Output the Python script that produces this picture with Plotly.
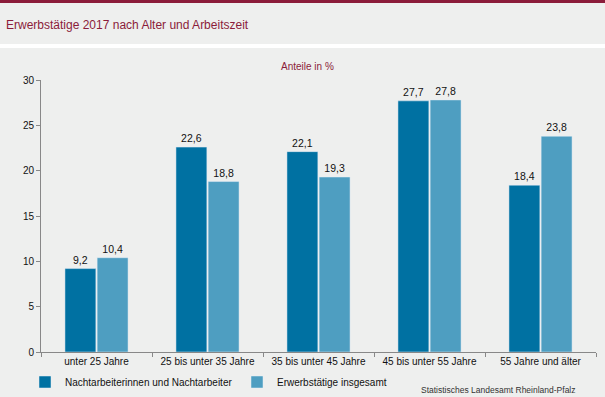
import plotly.graph_objects as go

categories = ["unter 25 Jahre", "25 bis unter 35 Jahre", "35 bis unter 45 Jahre",
              "45 bis unter 55 Jahre", "55 Jahre und älter"]
nacht = [9.2, 22.6, 22.1, 27.7, 18.4]
gesamt = [10.4, 18.8, 19.3, 27.8, 23.8]
series_names = ["Nachtarbeiterinnen und Nachtarbeiter", "Erwerbstätige insgesamt"]
y_ticks = [0, 5, 10, 15, 20, 25, 30]

BG = "#eeefee"
MAROON = "#8b1c3a"
FONT = "Liberation Sans, Arial, sans-serif"

W, H = 605, 397
L, R, T, B = 41, 9, 80, 45
pw, ph = W - L - R, H - T - B

def px(x):
    return (x - L) / pw

def py(y):
    return (H - B - y) / ph

fig = go.Figure()
for name, vals, col in [(series_names[0], nacht, "#0071a2"), (series_names[1], gesamt, "#4e9ec1")]:
    fig.add_trace(go.Bar(
        x=categories, y=vals, name=name, marker_color=col,
        texttemplate="%{y:.1f}", textposition="outside",
        textfont=dict(family=FONT, size=10.5, color="#111"),
        cliponaxis=False,
    ))

fig.update_layout(
    width=W, height=H,
    margin=dict(l=L, r=R, t=T, b=B, autoexpand=False),
    paper_bgcolor=BG, plot_bgcolor=BG,
    separators=",.",
    barmode="group", bargap=0.42, bargroupgap=0.04,
    font=dict(family=FONT, size=10, color="#111"),
    title=dict(text="Erwerbstätige 2017 nach Alter und Arbeitszeit",
               x=6 / W, xanchor="left", xref="container",
               y=1 - 25 / H, yanchor="middle", yref="container",
               font=dict(family=FONT, size=12, color=MAROON)),
    showlegend=True,
    legend=dict(orientation="h", x=px(25), xanchor="left", y=py(382), yanchor="middle",
                font=dict(family=FONT, size=10, color="#111"),
                bgcolor="rgba(0,0,0,0)", entrywidth=167, entrywidthmode="pixels",
                itemwidth=30, traceorder="normal"),
    xaxis=dict(showline=True, linecolor="#888", linewidth=1, tickangle=0, automargin=False,
               ticks="outside", tickson="boundaries", ticklen=4, tickcolor="#888",
               tickfont=dict(family=FONT, size=10, color="#111"), showgrid=False),
    yaxis=dict(range=[0, 30], tickvals=y_ticks, showline=True, linecolor="#888", linewidth=1,
               ticks="outside", ticklen=4, tickcolor="#888", showgrid=False, zeroline=False,
               automargin=False,
               tickfont=dict(family=FONT, size=10, color="#111")),
    shapes=[
        dict(type="rect", xref="paper", yref="paper", x0=px(0), x1=px(W), y0=py(3), y1=py(0),
             fillcolor=MAROON, line_width=0, layer="below"),
        dict(type="rect", xref="paper", yref="paper", x0=px(0), x1=px(W), y0=py(48), y1=py(44),
             fillcolor="white", line_width=0, layer="below"),
    ],
    annotations=[
        dict(text="Anteile in %", xref="paper", yref="paper", x=px(307), y=py(67),
             xanchor="center", yanchor="middle", showarrow=False,
             font=dict(family=FONT, size=10, color=MAROON)),
        dict(text="Statistisches Landesamt Rheinland-Pfalz", xref="paper", yref="paper",
             x=px(578), y=py(390), xanchor="right", yanchor="middle", showarrow=False,
             font=dict(family=FONT, size=8.5, color="#333")),
    ],
)

fig.write_html("out.html", config={"displayModeBar": False},
               post_script="document.body.style.margin='0';document.body.style.overflow='hidden';")
